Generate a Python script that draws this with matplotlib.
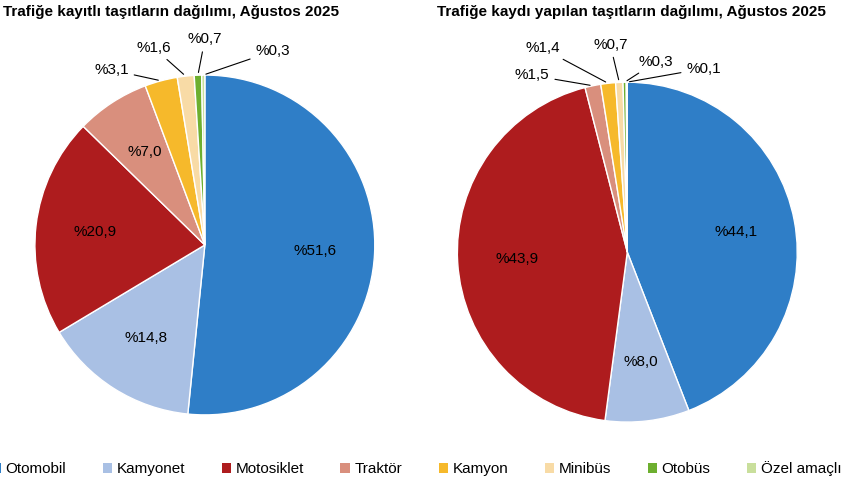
import numpy as np
import matplotlib.pyplot as plt
from matplotlib.patches import Patch

plt.rcParams["font.family"] = "Liberation Sans"

categories = ["Otomobil", "Kamyonet", "Motosiklet", "Traktör", "Kamyon", "Minibüs", "Otobüs", "Özel amaçlı"]
registered = [51.6, 14.8, 20.9, 7.0, 3.1, 1.6, 0.7, 0.3]
new_regs = [44.1, 8.0, 43.9, 1.5, 1.4, 0.7, 0.3, 0.1]
colors = ["#2F7EC7", "#A9C0E4", "#AE1C1E", "#D98F7D", "#F6B92B", "#F8DBA6", "#6DAF2F", "#C9DF9C"]

# label text positions for small slices (data coords, radius 1)
left_out = {4: (-0.55, 1.03), 5: (-0.30, 1.16), 6: (0.0, 1.21), 7: (0.40, 1.14)}
right_out = {3: (-0.56, 1.04), 4: (-0.50, 1.20), 5: (-0.10, 1.22), 6: (0.17, 1.12), 7: (0.45, 1.08)}


def fmt(v):
    return "%" + f"{v:.1f}".replace(".", ",")


def draw(ax, vals, outside):
    wedges, _ = ax.pie(vals, colors=colors, startangle=90, counterclock=False,
                       wedgeprops=dict(edgecolor="white", linewidth=1))
    for i, w in enumerate(wedges):
        ang = np.deg2rad((w.theta1 + w.theta2) / 2)
        if i in outside:
            tx, ty = outside[i]
            ax.annotate(fmt(vals[i]), xy=(np.cos(ang), np.sin(ang)), xytext=(tx, ty),
                        ha="center", va="center", fontsize=11,
                        arrowprops=dict(arrowstyle="-", color="black", lw=0.8),
                        annotation_clip=False)
        else:
            ax.text(0.65 * np.cos(ang), 0.65 * np.sin(ang), fmt(vals[i]),
                    ha="center", va="center", fontsize=11)
    ax.set_xlim(-1, 1)
    ax.set_ylim(-1, 1)
    ax.set_aspect("equal")


fig = plt.figure(figsize=(8.5, 4.78), dpi=100)
ax1 = fig.add_axes([0.041, 0.132, 0.4, 0.711])
ax2 = fig.add_axes([0.538, 0.117, 0.4, 0.711])
draw(ax1, registered, left_out)
draw(ax2, new_regs, right_out)

fig.text(0.003, 0.975, "Trafiğe kayıtlı taşıtların dağılımı, Ağustos 2025",
         fontsize=11, fontweight="bold", ha="left", va="center")
fig.text(0.514, 0.975, "Trafiğe kaydı yapılan taşıtların dağılımı, Ağustos 2025",
         fontsize=11, fontweight="bold", ha="left", va="center")

handles = [Patch(facecolor=c, edgecolor="none") for c in colors]
fig.legend(handles, categories, loc="lower center", ncol=8, frameon=False,
           fontsize=11, bbox_to_anchor=(0.49, -0.025), handlelength=0.6,
           handleheight=0.6, handletextpad=0.3, columnspacing=2.4)

fig.savefig("out.png", dpi=100)
